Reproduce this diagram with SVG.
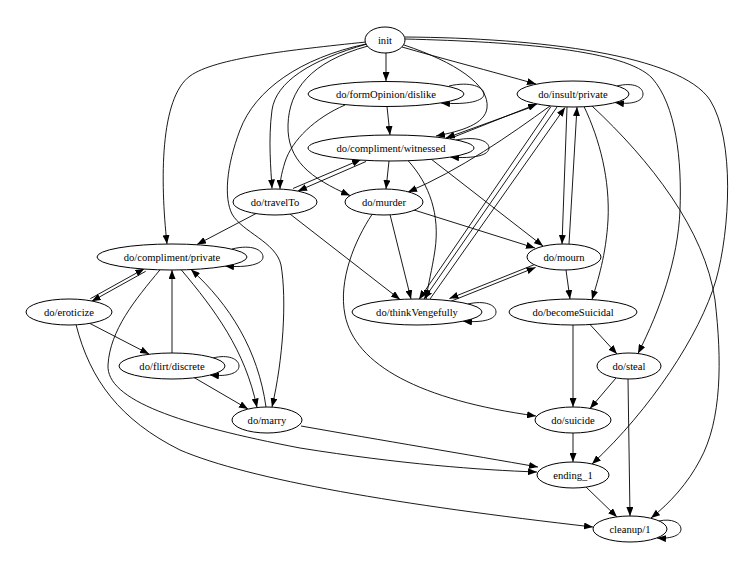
<svg xmlns="http://www.w3.org/2000/svg" width="746" height="561" viewBox="0 0 746 561">
<defs>
<marker id="a" markerWidth="9" markerHeight="7" refX="9" refY="3.5" orient="auto" markerUnits="userSpaceOnUse"><path d="M0,0 L9,3.5 L0,7 z" fill="#000"/></marker>
<style>
.n ellipse{fill:#fff;stroke:#000;stroke-width:1}
.n text{font-family:"Liberation Serif","Times New Roman",serif;font-size:10.6px;text-anchor:middle;fill:#000}
#edges path{fill:none;stroke:#000;stroke-width:0.9;marker-end:url(#a)}
</style>
</defs>
<rect width="746" height="561" fill="#fff"/>
<g id="edges">
<path d="M386,53 L386,81"/>
<path d="M402,47 C440,58 490,71 536,84"/>
<path d="M404,45 C455,62 490,85 487,108 C485,124 462,131 436,136"/>
<path d="M366,42 C290,50 215,58 190,76 C160,98 160,180 167,244"/>
<path d="M367,44 C310,60 276,82 272,110 C268,140 271,170 272,188.5"/>
<path d="M345,105 C315,118 292,140 285,162 C281,175 280,182 280,189"/>
<path d="M368,46 C310,62 289,90 288,125 C287,160 310,178 350,195.5"/>
<path d="M366,44 C300,58 255,90 240,130 C226,167 224,198 232,214 C242,232 276,242 281,265 C287,300 283,360 272,407"/>
<path d="M405,39 C520,42 625,50 652,78 C676,105 682,160 680,210 C678,260 660,310 638,353.5"/>
<path d="M405,37 C540,38 680,55 710,100 C735,140 730,230 716,280 C700,335 650,410 592,464"/>
<path d="M617,86 C633,82 643,87 643,94 C643,101 633,105 615,102.6"/>
<path d="M450,138.5 L537,104"/>
<path d="M533,106.5 L446,138"/>
<path d="M387,106.5 L390,135"/>
<path d="M449,86 C470,81 484,87 484,94 C484,101 468,105 441,103"/>
<path d="M456,140 C477,136 489,141 489,148 C489,155 475,159 450,157"/>
<path d="M366,161.5 L298,191"/>
<path d="M293,188.5 L361,159.5"/>
<path d="M389,161 L386,189"/>
<path d="M431,159 L543,246"/>
<path d="M408,160.5 C430,185 440,215 435,250 C432,270 428,285 426,299"/>
<path d="M550,106 C510,135 460,170 408,192"/>
<path d="M551,106.5 L419,299.5"/>
<path d="M557,107 L424,299"/>
<path d="M430,299 L565,107.5"/>
<path d="M567,107 L562,244"/>
<path d="M569,244 L577,107"/>
<path d="M584,106.5 C600,140 610,180 608,220 C606,255 598,280 592,299.5"/>
<path d="M592,106 C650,160 705,230 715,300 C722,360 722,420 700,460 C688,483 670,503 651,518"/>
<path d="M414,210 L535,248"/>
<path d="M390,214.5 L411,299"/>
<path d="M372,214.5 C355,240 338,280 345,315 C355,365 420,400 536,416"/>
<path d="M257,213 L197,244.5"/>
<path d="M290,214 L400,299.5"/>
<path d="M534.4,264.6 L449.4,298.6"/>
<path d="M450.6,301.4 L535.6,267.4"/>
<path d="M566,270 L570,299"/>
<path d="M468,304 C485,300 496,305 496,312 C496,319 484,323 463,321.2"/>
<path d="M573,325 L573,407"/>
<path d="M590,324.5 L617,354"/>
<path d="M616,378 L590,408.5"/>
<path d="M628,379 L630,516"/>
<path d="M573,433 L573,462"/>
<path d="M586,487 L617,517"/>
<path d="M659,521 C672,518 681,523 681,529 C681,535 672,539 657,538"/>
<path d="M232,249 C252,244 263,250 263,257 C263,264 248,268 225,266"/>
<path d="M90.3,298.7 L144.3,268.7"/>
<path d="M145.7,271.3 L91.7,301.3"/>
<path d="M90,323.5 L149,354"/>
<path d="M76,324.5 C90,380 120,420 180,450 C250,480 400,505 593,527"/>
<path d="M172,353 L172,270"/>
<path d="M213,358 C228,354 239,359 239,366 C239,373 228,377 210,375"/>
<path d="M194,377.5 L248,409"/>
<path d="M181,269.5 C215,310 245,350 257,407.5"/>
<path d="M266,407 C258,350 230,305 191,269.5"/>
<path d="M160,269.8 C135,300 110,330 108,365 C106,400 180,425 300,448 C400,464 480,470 537,472"/>
<path d="M301,426 C380,440 470,455 538,467"/>
</g>
<g id="init" class="n"><ellipse cx="385" cy="40" rx="20" ry="13"/><text x="385" y="43.7">init</text></g>
<g id="formOpinion" class="n"><ellipse cx="386" cy="94" rx="78" ry="12.5"/><text x="386" y="97.7">do/formOpinion/dislike</text></g>
<g id="insult" class="n"><ellipse cx="573" cy="94" rx="56" ry="13"/><text x="573" y="97.7">do/insult/private</text></g>
<g id="witnessed" class="n"><ellipse cx="391" cy="148" rx="83" ry="13"/><text x="391" y="151.7">do/compliment/witnessed</text></g>
<g id="travelTo" class="n"><ellipse cx="275" cy="202" rx="42" ry="13"/><text x="275" y="205.7">do/travelTo</text></g>
<g id="murder" class="n"><ellipse cx="384" cy="202" rx="39" ry="13"/><text x="384" y="205.7">do/murder</text></g>
<g id="complimentPrivate" class="n"><ellipse cx="172" cy="257" rx="75" ry="13"/><text x="172" y="260.7">do/compliment/private</text></g>
<g id="mourn" class="n"><ellipse cx="564" cy="257" rx="37" ry="13"/><text x="564" y="260.7">do/mourn</text></g>
<g id="eroticize" class="n"><ellipse cx="69" cy="312" rx="43" ry="13"/><text x="69" y="315.7">do/eroticize</text></g>
<g id="thinkVengefully" class="n"><ellipse cx="417" cy="312" rx="65" ry="13"/><text x="417" y="315.7">do/thinkVengefully</text></g>
<g id="becomeSuicidal" class="n"><ellipse cx="573" cy="312" rx="64" ry="13"/><text x="573" y="315.7">do/becomeSuicidal</text></g>
<g id="flirt" class="n"><ellipse cx="172" cy="366" rx="53" ry="13"/><text x="172" y="369.7">do/flirt/discrete</text></g>
<g id="steal" class="n"><ellipse cx="629" cy="366" rx="32" ry="13"/><text x="629" y="369.7">do/steal</text></g>
<g id="marry" class="n"><ellipse cx="267" cy="420" rx="35" ry="13"/><text x="267" y="423.7">do/marry</text></g>
<g id="suicide" class="n"><ellipse cx="573" cy="420" rx="38" ry="13"/><text x="573" y="423.7">do/suicide</text></g>
<g id="ending1" class="n"><ellipse cx="573" cy="475" rx="36" ry="13"/><text x="573" y="478.7">ending_1</text></g>
<g id="cleanup" class="n"><ellipse cx="630" cy="529" rx="37" ry="13"/><text x="630" y="532.7">cleanup/1</text></g>
</svg>
